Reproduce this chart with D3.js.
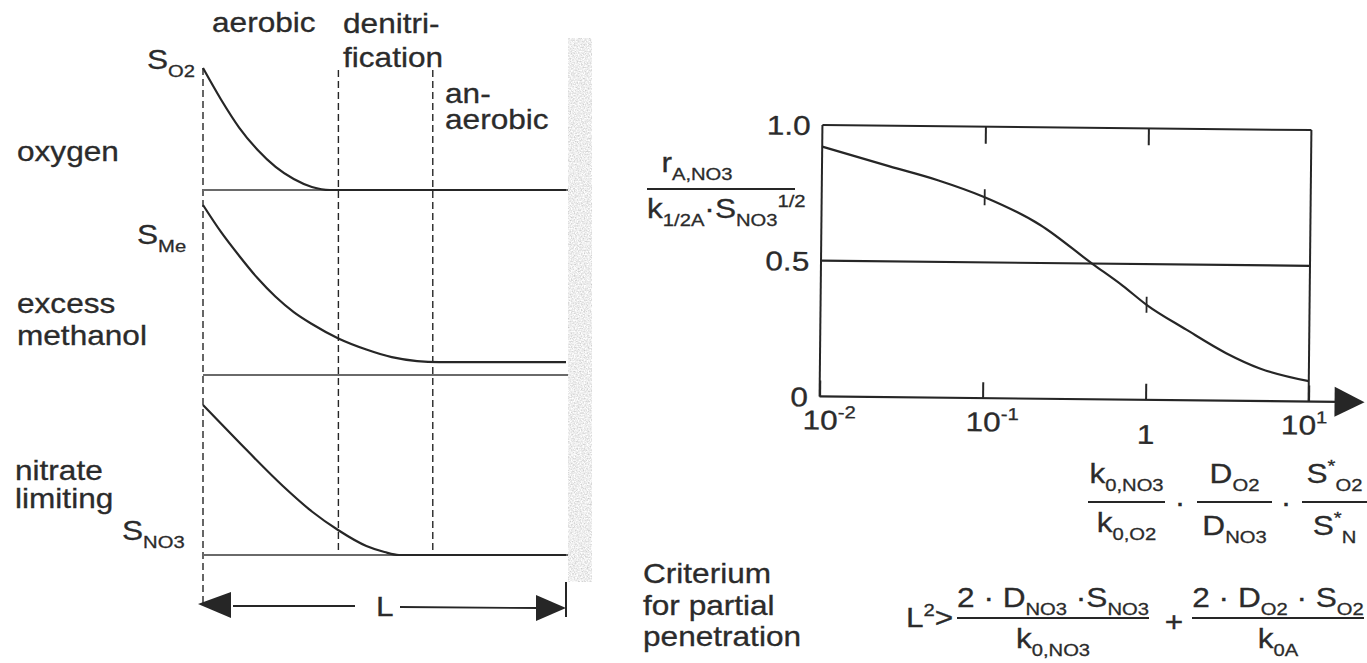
<!DOCTYPE html>
<html>
<head>
<meta charset="utf-8">
<script src="https://cdn.jsdelivr.net/npm/d3@7"></script>
<style>
  body { margin: 0; background: #fff; }
  text { font-family: "Liberation Sans", Arial, sans-serif; fill: #2b2b2b; stroke: #2b2b2b; stroke-width: 0.3px; white-space: pre; }
</style>
</head>
<body>
<svg id="chart"></svg>
<script>
// left panel: depth into the biofilm as fraction of L, concentration relative to the surface value
const zoneEdges = [0, 0.373, 0.633, 1]
const o2Depth = [0, 0.05, 0.1, 0.15, 0.2, 0.25, 0.3, 0.35, 0.373, 1]
const o2Conc = [1, 0.74, 0.51, 0.33, 0.19, 0.09, 0.025, 0, 0, 0]
const meDepth = [0, 0.05, 0.1, 0.15, 0.2, 0.25, 0.3, 0.373, 0.45, 0.52, 0.59, 0.65, 1]
const meConc = [1, 0.84, 0.70, 0.57, 0.46, 0.37, 0.30, 0.215, 0.15, 0.105, 0.082, 0.076, 0.076]
const no3Depth = [0, 0.05, 0.1, 0.22, 0.3, 0.373, 0.45, 0.5, 0.54, 0.633, 1]
const no3Conc = [1, 0.875, 0.75, 0.46, 0.29, 0.165, 0.06, 0.02, 0, 0, 0]

// right panel: rate ratio against the dimensionless group (log axis)
const ratioX = [0.01, 0.026, 0.052, 0.1, 0.22, 0.46, 0.71, 1, 1.76, 3.1, 5, 10]
const ratioY = [0.92, 0.85, 0.80, 0.74, 0.64, 0.50, 0.42, 0.35, 0.26, 0.175, 0.12, 0.075]
const xTicks = [0.01, 0.1, 1, 10]
const yTicks = [0, 0.5, 1]
const halfLevel = 0.5
const markedX = [0.1, 1]

const W = 1367
const H = 663
const FS = 27
const SX = 1.17
const ink = '#262626'

const svg = d3.select('#chart').attr('width', W).attr('height', H)

// speckled grey for the support wall
const defs = svg.append('defs')
const grain = defs.append('filter').attr('id', 'grain')
    .attr('x', 0).attr('y', 0).attr('width', '100%').attr('height', '100%')
grain.append('feTurbulence').attr('type', 'fractalNoise')
    .attr('baseFrequency', 0.7).attr('numOctaves', 2).attr('seed', 7).attr('result', 'n')
grain.append('feColorMatrix').attr('in', 'n').attr('type', 'matrix')
    .attr('values', '0.7 0 0 0 0.5  0.7 0 0 0 0.5  0.7 0 0 0 0.5  0 0 0 0 1')
    .attr('result', 'g')
grain.append('feComposite').attr('in', 'g').attr('in2', 'SourceGraphic').attr('operator', 'in')

function fillRich(t, parts, size) {
    let shift = 0
    parts.forEach(p => {
        const mode = p[0] === '_' ? 'sub' : p[0] === '^' ? 'sup' : 'n'
        const txt = mode === 'n' ? p : p.slice(1)
        const target = mode === 'sub' ? size * 0.28 : mode === 'sup' ? -size * 0.42 : 0
        t.append('tspan')
            .attr('dy', target - shift)
            .style('font-size', (mode === 'n' ? size : size * 0.64) + 'px')
            .text(txt)
        shift = target
    })
    return t
}

function rich(g, x, y, parts, size = FS, anchor = 'start') {
    const t = g.append('text')
        .attr('transform', `translate(${x},${y}) scale(${SX},1)`)
        .attr('text-anchor', anchor)
        .style('font-size', size + 'px')
    return fillRich(t, parts, size)
}

function rule(g, x1, y1, x2, y2, w = 2, color = ink) {
    return g.append('line')
        .attr('x1', x1).attr('y1', y1).attr('x2', x2).attr('y2', y2)
        .attr('stroke', color).attr('stroke-width', w)
}

function frac(g, x1, x2, yLine, num, den, numBase, denBase) {
    rule(g, x1, yLine, x2, yLine, 2)
    const cx = (x1 + x2) / 2
    rich(g, cx, numBase, num, FS, 'middle')
    rich(g, cx, denBase, den, FS, 'middle')
}

// ---------- left panel ----------
const left = svg.append('g')
const depth = d3.scaleLinear().domain([0, 1]).range([203, 566])

const profiles = [
    { depth: o2Depth, conc: o2Conc, y: d3.scaleLinear().domain([0, 1]).range([190, 68]) },
    { depth: meDepth, conc: meConc, y: d3.scaleLinear().domain([0, 1]).range([375, 205]) },
    { depth: no3Depth, conc: no3Conc, y: d3.scaleLinear().domain([0, 1]).range([555, 405]) }
]

// biofilm support wall
left.append('rect')
    .attr('x', depth(1) + 2).attr('y', 38)
    .attr('width', 24).attr('height', 544)
    .attr('fill', '#e0e0e0')
    .attr('filter', 'url(#grain)')

// zone boundaries
rule(left, depth(0), 68, depth(0), 604, 1.4).attr('stroke-dasharray', '7,4')
zoneEdges.slice(1, 3).forEach(z => {
    rule(left, depth(z), 70, depth(z), profiles[2].y(0), 1.4).attr('stroke-dasharray', '7,4')
})

profiles.forEach(p => {
    rule(left, depth(0), p.y(0), depth(1) + 2, p.y(0), 2, '#6a6a6a')
    const pts = p.depth.map((d, i) => [d, p.conc[i]])
    left.append('path')
        .datum(pts)
        .attr('fill', 'none')
        .attr('stroke', ink)
        .attr('stroke-width', 2.2)
        .attr('d', d3.line().x(d => depth(d[0])).y(d => p.y(d[1])).curve(d3.curveMonotoneX))
})

// L dimension arrow
const ay = 606
rule(left, depth(0) + 30, ay, 355, ay, 1.8)
rule(left, 400, ay + 1, depth(1) - 28, ay + 2, 1.8)
rule(left, depth(1), 582, depth(1), 617, 2)
left.append('path')
    .attr('d', d3.line()([[depth(0) - 5, ay - 2], [depth(0) + 28, ay - 14], [depth(0) + 28, ay + 12]]))
    .attr('fill', ink)
left.append('path')
    .attr('d', d3.line()([[depth(1), ay + 2], [depth(1) - 30, ay - 11], [depth(1) - 30, ay + 15]]))
    .attr('fill', ink)
rich(left, 376, 616, ['L'])

rich(left, 212, 32, ['aerobic'])
rich(left, 343, 33, ['denitri-'])
rich(left, 343, 67, ['fication'])
rich(left, 445, 103, ['an-'])
rich(left, 445, 129, ['aerobic'])
rich(left, 147, 69, ['S', '_O2'])
rich(left, 17, 161, ['oxygen'])
rich(left, 137, 244, ['S', '_Me'])
rich(left, 17, 313, ['excess'])
rich(left, 17, 345, ['methanol'])
rich(left, 15, 480, ['nitrate'])
rich(left, 15, 508, ['limiting'])
rich(left, 122, 540, ['S', '_NO3'])
rich(left, 643, 583, ['Criterium'])
rich(left, 643, 615, ['for partial'])
rich(left, 643, 646, ['penetration'])

// ---------- right panel ----------
const x = d3.scaleLog().domain([0.01, 10]).range([821, 1310])
const y = d3.scaleLinear().domain([0, 1]).range([399, 127.5])

const chart = svg.append('g').attr('transform', 'rotate(0.6,1066,263)')

rule(chart, x(0.01), y(1), x(10), y(1), 2)
rule(chart, x(0.01), y(1), x(0.01), y(0), 2)
rule(chart, x(10), y(1), x(10), y(0), 2)
rule(chart, x(0.01), y(0), 1340, y(0), 2.2)
chart.append('path')
    .attr('d', d3.line()([[1336, y(0) - 15], [1366, y(0)], [1336, y(0) + 15]]))
    .attr('fill', ink)

rule(chart, x(0.01), y(halfLevel), x(10), y(halfLevel), 2.2)

const gx = chart.append('g')
    .attr('transform', `translate(0,${y(0)})`)
    .call(d3.axisBottom(x).tickValues(xTicks).tickSizeInner(-16).tickSizeOuter(0).tickPadding(14))
gx.select('.domain').remove()
gx.selectAll('line').attr('stroke', ink).attr('stroke-width', 2)
gx.selectAll('text').each(function (d) {
    const e = Math.round(Math.log10(d))
    const t = d3.select(this).text(null)
        .attr('dy', null)
        .style('font-size', FS + 'px')
        .attr('transform', `scale(${SX},1)`)
    if (e === 0) {
        t.attr('y', 44)
        fillRich(t, ['1'], FS)
    } else {
        t.attr('y', 33).attr('dx', e < 0 ? 8 : -4)
        fillRich(t, ['10', '^' + e], FS)
    }
})

const gTop = chart.append('g')
    .attr('transform', `translate(0,${y(1)})`)
    .call(d3.axisTop(x).tickValues(markedX).tickSizeInner(-17).tickSizeOuter(0).tickFormat(''))
gTop.select('.domain').remove()
gTop.selectAll('line').attr('stroke', ink).attr('stroke-width', 2)

const gy = chart.append('g')
    .attr('transform', `translate(${x(0.01)},0)`)
    .call(d3.axisLeft(y).tickValues(yTicks).tickSize(0).tickPadding(10)
        .tickFormat(d => d === 0 ? '0' : d3.format('.1f')(d)))
gy.select('.domain').remove()
gy.selectAll('text')
    .style('font-size', FS + 'px')
    .attr('dy', '0.36em')
    .attr('transform', `scale(${SX},1)`)

chart.append('path')
    .datum(ratioX.map((v, i) => [v, ratioY[i]]))
    .attr('fill', 'none')
    .attr('stroke', ink)
    .attr('stroke-width', 2.2)
    .attr('d', d3.line().x(d => x(d[0])).y(d => y(d[1])).curve(d3.curveMonotoneX))

markedX.forEach(v => {
    const cy = y(ratioY[ratioX.indexOf(v)])
    rule(chart, x(v), cy - 8, x(v), cy + 8, 1.8)
})

// y-axis quantity
const lab = svg.append('g')
rich(lab, 697, 172, ['r', '_A,NO3'], FS, 'middle')
rule(lab, 647, 189, 795, 189, 2)
rich(lab, 647, 218, ['k', '_1/2A', '·S', '_NO3', '^1/2'])

// x-axis quantity
frac(lab, 1088, 1165, 502, ['k', '_0,NO3'], ['k', '_0,O2'], 483, 532)
rich(lab, 1180, 512, ['·'], FS, 'middle')
frac(lab, 1197, 1272, 502, ['D', '_O2'], ['D', '_NO3'], 483, 535)
rich(lab, 1286, 512, ['·'], FS, 'middle')
frac(lab, 1302, 1367, 502, ['S', '^*', '_O2'], ['S', '^*', '_N'], 483, 535)

// penetration criterium
rich(lab, 906, 627, ['L', '^2', '>'])
frac(lab, 957, 1149, 618, ['2 · D', '_NO3', ' ·S', '_NO3'], ['k', '_0,NO3'], 607, 648)
rich(lab, 1174, 631, ['+'], FS, 'middle')
frac(lab, 1192, 1364, 618, ['2 · D', '_O2', ' · S', '_O2'], ['k', '_0A'], 607, 648)
</script>
</body>
</html>
